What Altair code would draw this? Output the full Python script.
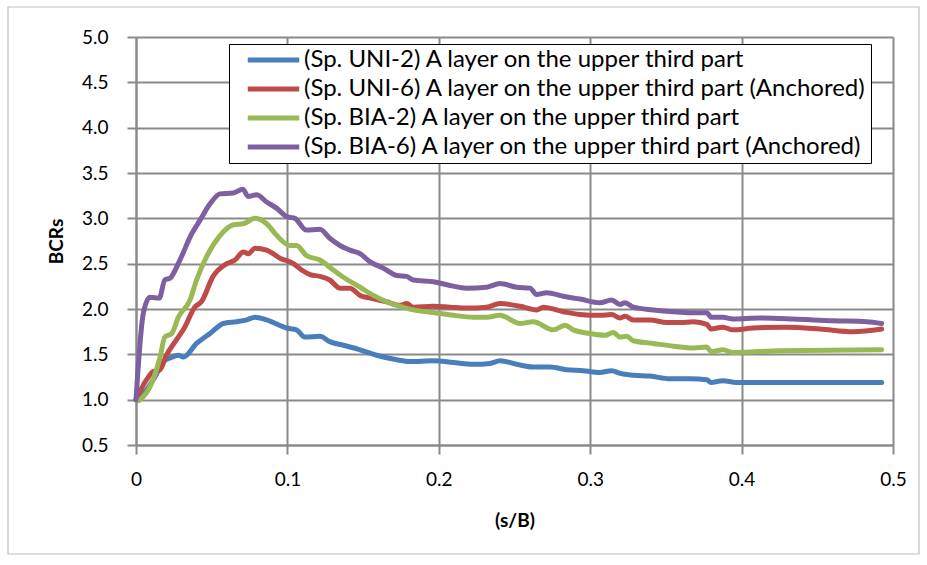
import altair as alt
import pandas as pd

series_names = [
    "(Sp. UNI-2) A layer on the upper third part",
    "(Sp. UNI-6) A layer on the upper third part (Anchored)",
    "(Sp. BIA-2) A layer on the upper third part",
    "(Sp. BIA-6) A layer on the upper third part (Anchored)",
]
series_colors = ["#4A7EBB", "#BE4B48", "#98B954", "#7D60A0"]

uni2_x = [0, 0.007, 0.0125, 0.018, 0.0225, 0.028, 0.0313, 0.04, 0.0489, 0.0577, 0.0665, 0.0731, 0.0786, 0.0863,
          0.0995, 0.106, 0.1115, 0.1215, 0.128, 0.137, 0.148, 0.159, 0.1722, 0.181, 0.1964, 0.2096, 0.2228, 0.2338,
          0.2404, 0.2514, 0.2624, 0.2734, 0.2844, 0.2954, 0.3064, 0.3142, 0.3197, 0.3285, 0.3395, 0.3527, 0.366,
          0.377, 0.3798, 0.3876, 0.3964, 0.43, 0.46, 0.4925]
uni2_y = [1.0, 1.11, 1.25, 1.42, 1.46, 1.49, 1.47, 1.62, 1.73, 1.84, 1.86, 1.88, 1.91, 1.88,
          1.79, 1.77, 1.69, 1.70, 1.64, 1.60, 1.55, 1.49, 1.44, 1.42, 1.43, 1.41, 1.39, 1.40,
          1.43, 1.39, 1.36, 1.36, 1.33, 1.32, 1.30, 1.32, 1.29, 1.27, 1.26, 1.23, 1.23,
          1.22, 1.19, 1.21, 1.19, 1.19, 1.19, 1.19]

uni6_x = [0, 0.007, 0.0114, 0.0159, 0.0201, 0.0267, 0.0322, 0.0388, 0.0432, 0.0509, 0.0599, 0.0654, 0.0709,
          0.0742, 0.0786, 0.0863, 0.0951, 0.104, 0.1094, 0.115, 0.1215, 0.128, 0.1347, 0.1413, 0.148, 0.1546,
          0.1655, 0.1744, 0.1788, 0.1832, 0.1964, 0.2074, 0.2184, 0.2316, 0.2404, 0.2536, 0.2646, 0.269, 0.2822,
          0.2932, 0.3064, 0.3142, 0.3197, 0.323, 0.3285, 0.3395, 0.3505, 0.3594, 0.3682, 0.377, 0.3798, 0.3876,
          0.3942, 0.4075, 0.4296, 0.4518, 0.4738, 0.4925]
uni6_y = [1.0, 1.22, 1.31, 1.33, 1.49, 1.66, 1.80, 2.02, 2.08, 2.36, 2.50, 2.54, 2.63,
          2.61, 2.67, 2.65, 2.56, 2.50, 2.43, 2.38, 2.36, 2.32, 2.23, 2.23, 2.15, 2.12,
          2.08, 2.04, 2.06, 2.02, 2.03, 2.02, 2.01, 2.02, 2.06, 2.03, 1.99, 2.02, 1.97,
          1.94, 1.93, 1.94, 1.90, 1.92, 1.88, 1.88, 1.85, 1.85, 1.86, 1.83, 1.78, 1.80,
          1.77, 1.79, 1.80, 1.78, 1.75, 1.78]

bia2_x = [0.002, 0.0092, 0.0159, 0.019, 0.0236, 0.028, 0.0357, 0.04, 0.0467, 0.0555, 0.0643, 0.0709, 0.0786,
          0.0863, 0.093, 0.1017, 0.106, 0.1125, 0.1215, 0.1303, 0.137, 0.148, 0.1568, 0.1655, 0.1744, 0.1832,
          0.1964, 0.2096, 0.2228, 0.2316, 0.2404, 0.2536, 0.2624, 0.2756, 0.2834, 0.2888, 0.2998, 0.3097, 0.3152,
          0.3197, 0.3241, 0.3285, 0.3417, 0.355, 0.3682, 0.377, 0.3798, 0.3876, 0.3942, 0.4254, 0.4925]
bia2_y = [0.99, 1.14, 1.47, 1.69, 1.73, 1.91, 2.10, 2.32, 2.58, 2.81, 2.93, 2.94, 3.0,
          2.94, 2.81, 2.70, 2.70, 2.59, 2.54, 2.43, 2.35, 2.24, 2.15, 2.08, 2.03, 1.99,
          1.96, 1.93, 1.91, 1.91, 1.93, 1.84, 1.86, 1.77, 1.82, 1.77, 1.73, 1.71, 1.74,
          1.69, 1.70, 1.65, 1.62, 1.59, 1.57, 1.58, 1.53, 1.55, 1.52, 1.54, 1.55]

bia6_x = [0, 0.0048, 0.0092, 0.0154, 0.019, 0.0225, 0.029, 0.0368, 0.0423, 0.0489, 0.0555, 0.0643, 0.0705,
          0.0742, 0.0797, 0.0863, 0.093, 0.0995, 0.105, 0.1125, 0.1215, 0.128, 0.1347, 0.1413, 0.148, 0.1546,
          0.1634, 0.1722, 0.1788, 0.1832, 0.1964, 0.2074, 0.2184, 0.2316, 0.2404, 0.2514, 0.2602, 0.2646, 0.2712,
          0.2822, 0.2932, 0.3064, 0.3142, 0.3197, 0.323, 0.3285, 0.3417, 0.355, 0.366, 0.377, 0.3798, 0.3876,
          0.3942, 0.4121, 0.434, 0.4606, 0.4826, 0.4925]
bia6_y = [1.0, 1.95, 2.13, 2.12, 2.32, 2.34, 2.54, 2.83, 2.98, 3.16, 3.27, 3.28, 3.32,
          3.24, 3.26, 3.18, 3.11, 3.02, 3.0, 2.87, 2.88, 2.78, 2.70, 2.65, 2.61, 2.52,
          2.45, 2.37, 2.36, 2.32, 2.30, 2.26, 2.23, 2.24, 2.28, 2.24, 2.23, 2.16, 2.18,
          2.14, 2.11, 2.07, 2.10, 2.05, 2.07, 2.02, 1.99, 1.97, 1.96, 1.96, 1.91, 1.91,
          1.89, 1.90, 1.89, 1.87, 1.86, 1.84]

x_ticks = [0, 0.1, 0.2, 0.3, 0.4, 0.5]
y_ticks = [0.5, 1.0, 1.5, 2.0, 2.5, 3.0, 3.5, 4.0, 4.5, 5.0]

rows = []
for name, xs, ys in zip(series_names, [uni2_x, uni6_x, bia2_x, bia6_x], [uni2_y, uni6_y, bia2_y, bia6_y]):
    for i, (xv, yv) in enumerate(zip(xs, ys)):
        rows.append({"series": name, "sB": xv, "BCRs": yv, "i": i})
df = pd.DataFrame(rows)

FONT = "Lato"
GRID = "#8A8A8A"
W, H = 757, 408

lines = alt.Chart(df).mark_line(strokeWidth=5, interpolate="monotone", strokeCap="round", strokeJoin="round").encode(
    x=alt.X("sB:Q", scale=alt.Scale(domain=[0, 0.5], nice=False),
            axis=alt.Axis(values=x_ticks, format=".1~f", title="(s/B)", labelFlush=False,
                          titleX=W / 2, titleY=75, titleBaseline="middle", titleAlign="center")),
    y=alt.Y("BCRs:Q", scale=alt.Scale(domain=[0.5, 5.0], nice=False, zero=False),
            axis=alt.Axis(values=y_ticks, format=".1f", title="BCRs", labelFlush=False,
                          titleX=-80, titleY=H / 2, titleAngle=-90, titleBaseline="middle", titleAlign="center")),
    color=alt.Color("series:N", scale=alt.Scale(domain=series_names, range=series_colors),
                    legend=alt.Legend(orient="none", legendX=93, legendY=7, title=None,
                                      symbolType="stroke", symbolSize=2650, symbolStrokeWidth=5,
                                      labelFontSize=24, labelFont=FONT, labelColor="black",
                                      strokeColor="black", fillColor="white", padding=3,
                                      clipHeight=26, rowPadding=3, symbolOffset=13, labelOffset=2,
                                      labelLimit=900,
                                      labelExpr="datum.label + '\u00a0\u00a0\u00a0\u00a0'")),
    order="i:Q",
)

frame = alt.Chart(alt.Data(values=[{"a": 1}])).mark_rect(
    fill=None, stroke="#BFBFBF", strokeWidth=1.2
).encode(
    x=alt.value(-128), x2=alt.value(783), y=alt.value(-30), y2=alt.value(517)
)

chart = alt.layer(frame, lines).properties(
    width=W, height=H,
    autosize=alt.AutoSizeParams(type="none"),
    padding={"left": 136, "top": 37, "right": 34, "bottom": 120},
    background="white",
).configure_view(stroke=None).configure_axis(
    gridColor=GRID, gridWidth=2, domainColor=GRID, domainWidth=2, tickColor=GRID, tickWidth=2,
    tickSize=9, labelFont=FONT, labelFontSize=19, labelColor="black",
    titleFont=FONT, titleFontSize=19, titleFontWeight="bold", titleColor="black",
).configure_axisX(labelPadding=16).configure_axisY(labelPadding=19)

chart.save("out.html", embed_options={"renderer": "svg", "actions": False})
